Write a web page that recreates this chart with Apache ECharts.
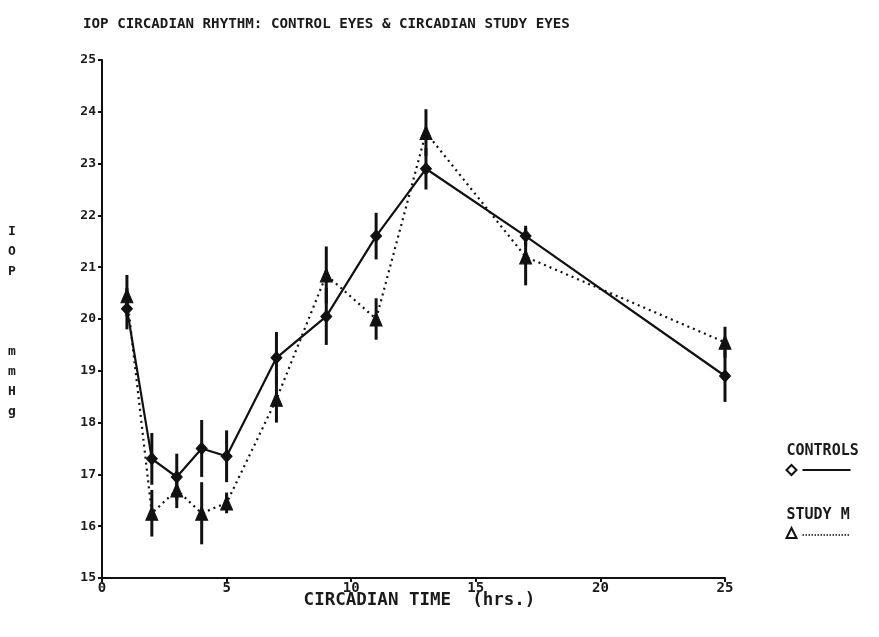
<!DOCTYPE html>
<html>
<head>
<meta charset="utf-8">
<script src="https://cdn.jsdelivr.net/npm/echarts@6/dist/echarts.min.js"></script>
<style>
  html, body { margin: 0; padding: 0; background: #fff; }
  #chart { width: 879px; height: 637px; }
</style>
</head>
<body>
<div id="chart"></div>
<script>
// Circadian time of each measurement (hours)
var times = [1, 2, 3, 4, 5, 7, 9, 11, 13, 17, 25];
// Mean IOP (mmHg) and error half-widths, control eyes
var controls    = [20.2, 17.3, 16.95, 17.5, 17.35, 19.25, 20.05, 21.6, 22.9, 21.6, 18.9];
var controlsErr = [0.4, 0.5, 0.45, 0.55, 0.5, 0.5, 0.55, 0.45, 0.4, 0.2, 0.5];
// Mean IOP (mmHg) and error half-widths, circadian study eyes
var study    = [20.45, 16.25, 16.7, 16.25, 16.45, 18.45, 20.85, 20.0, 23.6, 21.2, 19.55];
var studyErr = [0.4, 0.45, 0.35, 0.6, 0.2, 0.45, 0.55, 0.4, 0.45, 0.55, 0.3];
// Axis tick labels
var xTicks = [0, 5, 10, 15, 20, 25];
var yTicks = [15, 16, 17, 18, 19, 20, 21, 22, 23, 24, 25];

var FONT = '"DejaVu Sans Mono", monospace';

function pairs(ys) {
  return times.map(function (t, i) { return [t, ys[i]]; });
}
function errRows(ys, es) {
  return times.map(function (t, i) { return [t, ys[i] - es[i], ys[i] + es[i]]; });
}
function renderErr(params, api) {
  var lo = api.coord([api.value(0), api.value(1)]);
  var hi = api.coord([api.value(0), api.value(2)]);
  return {
    type: 'line',
    shape: { x1: lo[0], y1: lo[1], x2: hi[0], y2: hi[1] },
    style: { stroke: '#111', lineWidth: 3 }
  };
}

var chart = echarts.init(document.getElementById('chart'), null, { renderer: 'canvas' });

chart.setOption({
  backgroundColor: '#ffffff',
  animation: false,
  title: {
    text: 'IOP CIRCADIAN RHYTHM: CONTROL EYES & CIRCADIAN STUDY EYES',
    left: 78, top: 12,
    textStyle: { fontFamily: FONT, fontSize: 14.2, fontWeight: 'bold', color: '#1a1a1a' }
  },
  grid: { left: 102, right: 154, top: 60, bottom: 59, containLabel: false },
  xAxis: {
    type: 'value', min: 0, max: 25, interval: 5,
    name: 'CIRCADIAN TIME  (hrs.)', nameLocation: 'middle', nameGap: 13,
    nameMoveOverlap: false,
    nameTextStyle: { fontFamily: FONT, fontSize: 17.5, fontWeight: 'bold', color: '#1a1a1a', padding: [0, 0, 0, 12] },
    axisLine: { lineStyle: { color: '#111', width: 2 } },
    axisTick: { show: true, length: 4, inside: false, lineStyle: { color: '#111', width: 2 } },
    splitLine: { show: false },
    axisLabel: {
      fontFamily: FONT, fontSize: 14, fontWeight: 'bold', color: '#1a1a1a', margin: 3,
      formatter: function (v) { return xTicks.indexOf(v) >= 0 ? String(v) : ''; }
    }
  },
  yAxis: {
    type: 'value', min: 15, max: 25, interval: 1,
    axisLine: { show: true, lineStyle: { color: '#111', width: 2 } },
    axisTick: { show: true, length: 4, inside: false, lineStyle: { color: '#111', width: 2 } },
    splitLine: { show: false },
    axisLabel: {
      fontFamily: FONT, fontSize: 13, fontWeight: 'bold', color: '#1a1a1a', margin: 6,
      formatter: function (v) { return yTicks.indexOf(v) >= 0 ? String(v) : ''; }
    }
  },
  graphic: [
    {
      type: 'text', left: 8, top: 222,
      style: {
        text: 'I\nO\nP\n\n\n\nm\nm\nH\ng',
        fontFamily: FONT, fontSize: 13, fontWeight: 'bold', lineHeight: 20,
        fill: '#1a1a1a', align: 'center'
      }
    },
    {
      type: 'group', left: 784, top: 444,
      children: [
        { type: 'text', x: 0, y: 0, style: { text: 'CONTROLS', fontFamily: FONT, fontSize: 15, fill: '#1a1a1a', fontWeight: 'bold' } },
        { type: 'polygon', shape: { points: [[5, 21], [10, 26], [5, 31], [0, 26]] }, style: { fill: 'none', stroke: '#111', lineWidth: 2 } },
        { type: 'line', shape: { x1: 16, y1: 26, x2: 64, y2: 26 }, style: { stroke: '#111', lineWidth: 2 } },
        { type: 'text', x: 0, y: 64, style: { text: 'STUDY M', fontFamily: FONT, fontSize: 15, fill: '#1a1a1a', fontWeight: 'bold' } },
        { type: 'polygon', shape: { points: [[5, 84], [10, 94], [0, 94]] }, style: { fill: 'none', stroke: '#111', lineWidth: 2 } },
        { type: 'line', shape: { x1: 16, y1: 91, x2: 64, y2: 91 }, style: { stroke: '#111', lineWidth: 1.5, lineDash: [1.5, 1.5] } }
      ]
    }
  ],
  series: [
    {
      name: 'CONTROLS err', type: 'custom', renderItem: renderErr,
      data: errRows(controls, controlsErr), z: 1, silent: true
    },
    {
      name: 'STUDY M err', type: 'custom', renderItem: renderErr,
      data: errRows(study, studyErr), z: 1, silent: true
    },
    {
      name: 'STUDY M', type: 'line', data: pairs(study), z: 2,
      symbol: 'triangle', symbolSize: [12, 14], showAllSymbol: true,
      itemStyle: { color: '#111', borderColor: '#111' },
      lineStyle: { color: '#111', width: 2.2, type: [2, 4] }
    },
    {
      name: 'CONTROLS', type: 'line', data: pairs(controls), z: 3,
      symbol: 'diamond', symbolSize: [11, 12], showAllSymbol: true,
      itemStyle: { color: '#111', borderColor: '#111' },
      lineStyle: { color: '#111', width: 2.2 }
    }
  ]
});
</script>
</body>
</html>
